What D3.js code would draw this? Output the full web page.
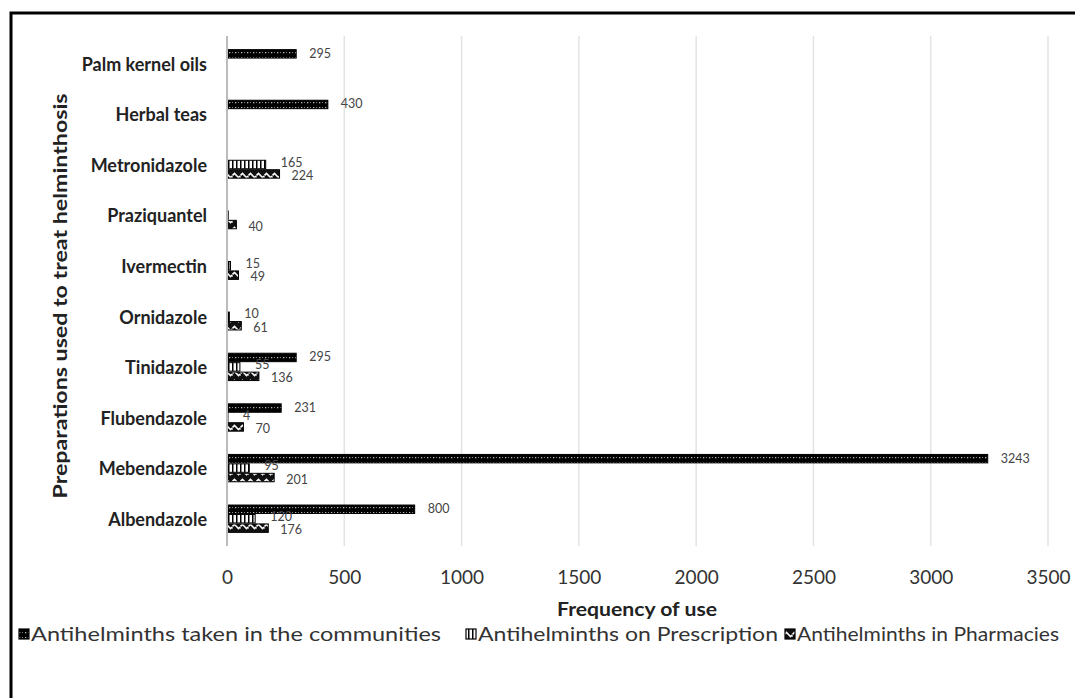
<!DOCTYPE html>
<html><head><meta charset="utf-8">
<script src="https://cdn.jsdelivr.net/npm/d3@7"></script>
<style>
body{margin:0;background:#fff;}
svg{display:block;}
text{font-family:Lato,"Open Sans",sans-serif;}
</style></head>
<body><svg id="c" width="1075" height="698"></svg>
<script>
const categories = ["Albendazole","Mebendazole","Flubendazole","Tinidazole","Ornidazole","Ivermectin","Praziquantel","Metronidazole","Herbal teas","Palm kernel oils"];
const seriesNames = ["Antihelminths taken in the communities","Antihelminths on Prescription","Antihelminths in Pharmacies"];
const community    = [800, 3243, 231, 295, 0, 0, 0, 0, 430, 295];
const prescription = [120, 95, 4, 55, 10, 15, 5, 165, 0, 0];
const pharmacies   = [176, 201, 70, 136, 61, 49, 40, 224, 0, 0];
const hiddenLabels = [["Praziquantel", 1]];
const xTicks = [0,500,1000,1500,2000,2500,3000,3500];

const svg = d3.select("#c");
const defs = svg.append("defs");
const p1 = defs.append("pattern").attr("id","pCom").attr("patternUnits","userSpaceOnUse").attr("width",6).attr("height",5);
p1.append("rect").attr("width",6).attr("height",5).attr("fill","#000");
p1.append("rect").attr("x",1).attr("y",2).attr("width",1.3).attr("height",1.3).attr("fill","#bbb");
p1.append("rect").attr("x",4).attr("y",2).attr("width",1).attr("height",1).attr("fill","#888");
const p2 = defs.append("pattern").attr("id","pPre").attr("patternUnits","userSpaceOnUse").attr("width",4).attr("height",4);
p2.append("rect").attr("width",4).attr("height",4).attr("fill","#fff");
p2.append("rect").attr("x",0).attr("width",1.5).attr("height",4).attr("fill","#000");
const p3 = defs.append("pattern").attr("id","pPha").attr("patternUnits","userSpaceOnUse").attr("width",8).attr("height",9);
p3.append("rect").attr("width",8).attr("height",9).attr("fill","#111");
p3.append("path").attr("d","M0.5,4.5 L2.5,2.5 L4.5,4.5 L6.5,6.5 L8,5").attr("stroke","#fff").attr("stroke-width",1.6).attr("fill","none");
p3.append("path").attr("d","M-1,5 L0.5,6.5").attr("stroke","#fff").attr("stroke-width",1.6).attr("fill","none");
const fills = ["url(#pCom)","url(#pPre)","url(#pPha)"];

svg.append("path").attr("d","M11,700 L11,13 L1080,13").attr("fill","none").attr("stroke","#000").attr("stroke-width",3);

const x = d3.scaleLinear().domain([0,3500]).range([227,1048]);
const y = d3.scaleBand().domain(categories).range([544,38]).paddingInner(0.44).paddingOuter(0.22);
const yi = d3.scaleBand().domain([0,1,2]).range([0,y.bandwidth()]);

svg.append("g").selectAll("line").data(xTicks.slice(1)).join("line")
  .attr("x1",d=>x(d)).attr("x2",d=>x(d)).attr("y1",36).attr("y2",546)
  .attr("stroke","#e3e3e3").attr("stroke-width",1.5);

const data = [community, prescription, pharmacies];
const offsets = [13, 15, 12];
const dys = [4, 2, 6];
const g = svg.append("g");
categories.forEach((c,i)=>{
  data.forEach((arr,s)=>{
    const v = arr[i];
    if(v<=0) return;
    g.append("rect").attr("x",x(0)).attr("y",y(c)+yi(s)+0.5)
      .attr("width",x(v)-x(0)).attr("height",yi.bandwidth()-1)
      .attr("fill",fills[s]).attr("stroke","#000").attr("stroke-width",1);
    const hidden = hiddenLabels.some(h=>h[0]===c && h[1]===s);
    if(!hidden){
      g.append("text").attr("x",x(v)+offsets[s]).attr("y",y(c)+yi(s)+yi.bandwidth()/2+dys[s])
        .attr("font-size",12.5).attr("fill","#444").text(v);
    }
  });
});

svg.append("line").attr("x1",x(0)).attr("x2",x(0)).attr("y1",36).attr("y2",546).attr("stroke","#bbb").attr("stroke-width",2);

const xa = svg.append("g").attr("transform","translate(0,546)")
  .call(d3.axisBottom(x).tickValues(xTicks).tickFormat(d3.format("d")).tickSize(0).tickPadding(25));
xa.select(".domain").remove();
xa.selectAll("text").attr("font-size",19).attr("fill","#333").attr("font-family","Lato,sans-serif");

const ya = svg.append("g").attr("transform",`translate(${x(0)},0)`)
  .call(d3.axisLeft(y).tickSize(0).tickPadding(20));
ya.select(".domain").remove();
ya.selectAll("text").attr("font-size",18).attr("font-weight","bold").attr("fill","#222")
  .attr("font-family","Lato,sans-serif").attr("dy","0.4em");

svg.append("text").attr("x",637).attr("y",616).attr("text-anchor","middle")
  .attr("font-size",18).attr("font-weight","bold").attr("fill","#222")
  .attr("textLength",160).attr("lengthAdjust","spacingAndGlyphs").text("Frequency of use");
svg.append("text").attr("transform","translate(67,296) rotate(-90)").attr("text-anchor","middle")
  .attr("font-size",18).attr("font-weight","bold").attr("fill","#222")
  .attr("textLength",405).attr("lengthAdjust","spacingAndGlyphs").text("Preparations used to treat helminthosis");

const legX = [19,466,785];
const legW = [410, 300, 262];
const leg = svg.append("g");
seriesNames.forEach((n,i)=>{
  leg.append("rect").attr("x",legX[i]).attr("y",629).attr("width",10).attr("height",10)
    .attr("fill",fills[i]).attr("stroke","#000").attr("stroke-width",1.2);
  leg.append("text").attr("x",legX[i]+12).attr("y",641).attr("font-size",20).attr("fill","#333")
    .attr("textLength",legW[i]).attr("lengthAdjust","spacingAndGlyphs").text(n);
});
</script></body></html>
